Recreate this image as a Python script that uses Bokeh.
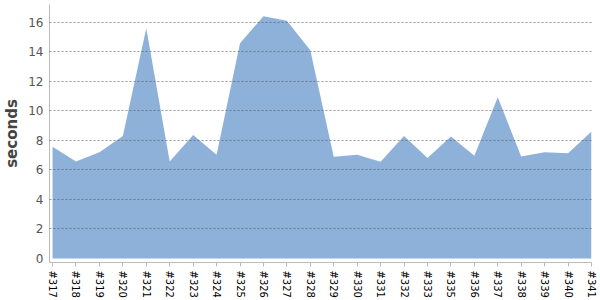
from bokeh.plotting import figure
from bokeh.models import FixedTicker, Range1d
from bokeh.embed import file_html
from bokeh.resources import INLINE

builds = ["#317", "#318", "#319", "#320", "#321", "#322", "#323", "#324", "#325", "#326",
          "#327", "#328", "#329", "#330", "#331", "#332", "#333", "#335", "#336", "#337",
          "#338", "#339", "#340", "#341"]
seconds = [7.56, 6.57, 7.2, 8.3, 15.6, 6.57, 8.37, 7.02, 14.58, 16.4,
           16.1, 14.1, 6.89, 7.02, 6.55, 8.3, 6.8, 8.26, 6.95, 10.92,
           6.9, 7.2, 7.12, 8.6]
y_ticks = [0, 2, 4, 6, 8, 10, 12, 14, 16]

xs = list(range(len(builds)))

p = figure(width=600, height=300, output_backend="svg", toolbar_location=None,
           x_range=Range1d(-0.13, len(builds) - 1), y_range=Range1d(-0.27, 17.2),
           min_border_left=48, min_border_right=9, min_border_top=4, min_border_bottom=0)
p.outline_line_color = None

p.varea(x=xs, y1=[0] * len(xs), y2=seconds, fill_color="#8EB1DA", fill_alpha=1.0)

p.xgrid.visible = False
p.ygrid.ticker = FixedTicker(ticks=y_ticks[1:])
p.ygrid.grid_line_color = "#555555"
p.ygrid.grid_line_alpha = 0.6
p.ygrid.grid_line_dash = "2 2"
p.ygrid.grid_line_width = 1
p.ygrid.level = "overlay"

p.yaxis.ticker = FixedTicker(ticks=y_ticks)
p.yaxis.axis_label = "seconds"
p.yaxis.axis_label_text_font = "DejaVu Sans"
p.yaxis.axis_label_text_font_size = "15px"
p.yaxis.axis_label_text_font_style = "bold"
p.yaxis.axis_label_text_color = "#444444"
p.yaxis.axis_label_standoff = 4
p.yaxis.major_label_text_font = "DejaVu Sans"
p.yaxis.major_label_text_font_size = "12px"
p.yaxis.major_label_text_color = "#555555"
p.yaxis.major_tick_line_color = None
p.yaxis.minor_tick_line_color = None
p.yaxis.axis_line_color = "#bbbbbb"
p.yaxis.major_label_standoff = 6
p.yaxis.major_tick_in = 0
p.yaxis.major_tick_out = 0

p.xaxis.ticker = FixedTicker(ticks=xs)
p.xaxis.major_label_overrides = {i: b for i, b in enumerate(builds)}
p.xaxis.major_label_orientation = "vertical"
p.xaxis.major_label_text_font = "DejaVu Sans"
p.xaxis.major_label_text_font_size = "10px"
p.xaxis.major_label_text_color = "#000000"
p.xaxis.axis_line_color = "#bbbbbb"
p.xaxis.major_tick_line_color = "#bbbbbb"
p.xaxis.major_tick_in = 0
p.xaxis.major_tick_out = 4
p.xaxis.minor_tick_line_color = None
p.xaxis.major_label_standoff = 4

open("out.html", "w").write(file_html(p, INLINE))
